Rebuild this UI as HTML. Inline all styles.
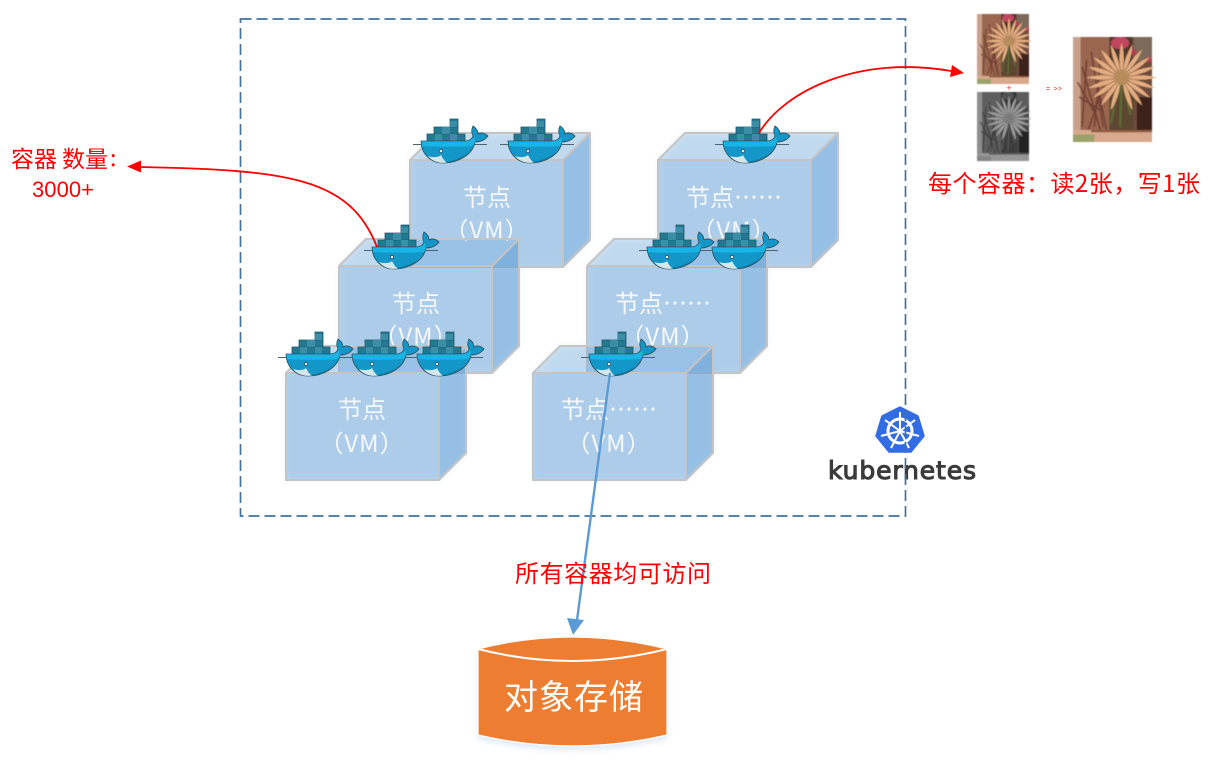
<!DOCTYPE html>
<html lang="zh-CN"><head><meta charset="utf-8"><style>
html,body{margin:0;padding:0;background:#fff}
svg{display:block}
text{font-family:"Liberation Sans","Noto Sans CJK SC",sans-serif}
.n{fill:#fff;font-size:24px;font-family:"Noto Sans CJK SC",sans-serif;font-weight:400;text-anchor:middle;fill-opacity:.88}
.r{fill:#f00;font-family:"Noto Sans CJK SC",sans-serif}
.f{fill:#5b9bd5;fill-opacity:.39}
.t{fill:#5b9bd5;fill-opacity:.23}
.s{fill:#5b9bd5;fill-opacity:.56}
.e{stroke:#c4c4c4;stroke-width:2;fill:none;stroke-linejoin:round}
</style></head><body>
<svg width="1211" height="764" viewBox="0 0 1211 764" xmlns="http://www.w3.org/2000/svg">
<defs>
<filter id="gl" x="-20%" y="-20%" width="140%" height="140%"><feGaussianBlur stdDeviation="3"/></filter>
<filter id="bl"><feGaussianBlur stdDeviation=".55"/></filter>
<g id="box">
<path d="M0 0H153V107H0Z" class="f"/>
<path d="M0 0L27-27H180L153 0Z" class="t"/>
<path d="M153 0L180-27V80L153 107Z" class="s"/>
<path d="M0 0H153V107H0ZM0 0L27-27H180V80L153 107M153 0L180-27" class="e"/>
</g>
<g id="whale">
<path d="M0 25.500H74" stroke="#4a6570" stroke-width=".9"/>
<path d="M14 15h38v7H14zM21 8h24v7H21zM37 0h8v8h-8z" fill="#24788f" stroke="#1b5a6c" stroke-width=".8"/>
<path d="M22 15h7v7h-7zM37 15h7v7h-7zM29 8h8v7h-8zM37 2h7v6h-7z" fill="#3b8ea6"/>
<path d="M8 22H52C57 22 59 20 60 17C58 13 59 9 60 7C63 9 65 12 65 15C68 13 72 14 75 17C72 21 67 23 62 23C60 35 46 44 30 44C17 44 8 34 8 22Z" fill="#1397c9" stroke="#2b4f5c" stroke-width=".8"/>
<path d="M8.400 22.400H52C56 22 59 21 61 18L62 23L60 27C44 28 24 28 9 27Z" fill="#19b4e6"/>
<path d="M56 32C50 40 40 44 30 43.500C44 41 52 37 56 32Z" fill="#0f7ca6"/>
<path d="M15 37C21 39 26 38 28 36C29 38 31 42 34 43.500C26 45 19 42 15 37Z" fill="#d5e6e8"/>
<circle cx="28" cy="32" r="1.700" fill="#dfeaf0" stroke="#26505f" stroke-width=".8"/>
</g>
<path id="pt" d="M0 -3C-2.200 -10-1.500 -18 0 -23C1.500 -18 2.200 -10 0 -3Z"/>
<g id="flower">
<rect width="52" height="70" fill="#6f4c3e"/>
<rect width="24" height="70" fill="#9a6650"/>
<rect x="24" width="15" height="30" fill="#4f382c"/>
<rect x="40" width="12" height="16" fill="#7d6a5a"/>
<rect x="24" y="37" width="16" height="25" fill="#5c4632"/>
<rect x="42" y="40" width="10" height="22" fill="#3c211b"/>
<rect x="0" width="5" height="62" fill="#c9a08a"/>
<g stroke="#6f3f30" stroke-width="1" fill="none"><path d="M12 10L20 60M6 20L18 62M24 22L10 62M4 40L20 50M9 15L6 60M16 30L22 62M3 30L14 50M18 14L14 60"/></g>
<path d="M30 30L25 58M32 30L31 60M34 35L38 52" stroke="#5d6b33" stroke-width="1.500" fill="none"/>
<ellipse cx="31" cy="4" rx="6" ry="4" fill="#c2455e"/>
<circle cx="40" cy="10" r="2" fill="#b53a52"/><circle cx="50" cy="15" r="2" fill="#b53a52"/>
<g fill="#e4ad80" transform="translate(32 27)">
<use href="#pt"/><use href="#pt" transform="rotate(18)"/><use href="#pt" transform="rotate(36)"/><use href="#pt" transform="rotate(54)"/><use href="#pt" transform="rotate(72)"/><use href="#pt" transform="rotate(90)"/><use href="#pt" transform="rotate(108)"/><use href="#pt" transform="rotate(126)"/><use href="#pt" transform="rotate(144)"/><use href="#pt" transform="rotate(162)"/><use href="#pt" transform="rotate(198)"/><use href="#pt" transform="rotate(216)"/><use href="#pt" transform="rotate(234)"/><use href="#pt" transform="rotate(252)"/><use href="#pt" transform="rotate(270)"/><use href="#pt" transform="rotate(288)"/><use href="#pt" transform="rotate(306)"/><use href="#pt" transform="rotate(324)"/><use href="#pt" transform="rotate(342)"/>
</g>
<circle cx="32" cy="27" r="5" fill="#b88c5a"/>
<rect y="62" width="52" height="8" fill="#d8a98c"/>
<rect x="12" y="62" width="40" height="1.500" fill="#8e5a40"/>
<rect x="0" y="65" width="14" height="5" fill="#9aa26a"/>
</g>
</defs>

<!-- box glows -->
<g fill="#9cc3e8" opacity=".3" filter="url(#gl)">
<path d="M410 160L437 133H590V240L563 267H410Z"/>
<path d="M658 160L685 133H838V240L811 267H658Z"/>
<path d="M339 266L366 239H519V346L492 373H339Z"/>
<path d="M587 266L614 239H767V346L740 373H587Z"/>
<path d="M286 373L313 346H466V453L439 480H286Z"/>
<path d="M533 373L560 346H713V453L686 480H533Z"/>
</g>

<!-- kubernetes logo -->
<path d="M900 407L918 416L924 436L911 452H889L876 436L882 416Z" fill="#326ce5" stroke="#326ce5" stroke-width="1.500" stroke-linejoin="round"/>
<g stroke="#fff" fill="none">
<circle cx="900" cy="431" r="12" stroke-width="3"/>
<path d="M900 431V412M900 431L915 420M900 431L919 436M900 431L909 448M900 431L891 448M900 431L881 436M900 431L885 420" stroke-width="2"/>
</g>
<circle cx="900" cy="431" r="2.500" fill="#fff"/>
<text x="828" y="479" font-size="25" fill="#3a3a3a" stroke="#3a3a3a" stroke-width="1.100" textLength="148" lengthAdjust="spacing" style="font-family:'DejaVu Sans',sans-serif">kubernetes</text>

<!-- dashed frame -->
<rect x="240.500" y="19" width="665" height="497" fill="none" stroke="#41719c" stroke-width="1.700" stroke-dasharray="11 5"/>

<!-- nodes -->
<use href="#box" x="410" y="160"/>
<text class="n" x="487" y="206">节点</text><text class="n" x="487" y="239" letter-spacing="1">（VM）</text>
<use href="#box" x="658" y="160"/>
<text class="n" x="734" y="206">节点……</text><text class="n" x="734" y="239" letter-spacing="1">（VM）</text>
<use href="#box" x="339" y="266"/>
<text class="n" x="416" y="312">节点</text><text class="n" x="416" y="345" letter-spacing="1">（VM）</text>
<use href="#box" x="587" y="266"/>
<text class="n" x="663" y="312">节点……</text><text class="n" x="663" y="345" letter-spacing="1">（VM）</text>
<use href="#box" x="286" y="373"/>
<text class="n" x="362" y="418">节点</text><text class="n" x="362" y="452" letter-spacing="1">（VM）</text>
<use href="#box" x="533" y="373"/>
<text class="n" x="609" y="418">节点……</text><text class="n" x="609" y="452" letter-spacing="1">（VM）</text>

<!-- whales -->
<use href="#whale" x="413" y="119"/>
<use href="#whale" x="500" y="119"/>
<use href="#whale" x="715" y="119"/>
<use href="#whale" x="364" y="225"/>
<use href="#whale" x="639" y="225"/>
<use href="#whale" x="704" y="225"/>
<use href="#whale" x="278" y="332"/>
<use href="#whale" x="344" y="332"/>
<use href="#whale" x="409" y="332"/>
<use href="#whale" x="581" y="332"/>

<!-- red connectors -->
<path d="M377 247C350 178 290 170 140 167" fill="none" stroke="#f00" stroke-width="1.800"/>
<path d="M127 166.500L141 160.500V172.500Z" fill="#f00"/>
<path d="M759 133C785 90 860 55 951 71" fill="none" stroke="#f00" stroke-width="1.800"/>
<path d="M964 73L950 77L952 65Z" fill="#f00"/>

<!-- blue connector -->
<path d="M610 373L577 620" fill="none" stroke="#5b9bd5" stroke-width="2.400"/>
<path d="M573 635L567 618L584 620Z" fill="#5b9bd5"/>

<!-- labels -->
<text class="r" x="11" y="167" font-size="23">容器</text>
<text class="r" x="62" y="167" font-size="23">数量</text>
<text class="r" x="110" y="166" font-size="23">:</text>
<text class="r" x="32" y="197" font-size="22" textLength="62" style="font-family:'Liberation Sans',sans-serif">3000+</text>
<text class="r" x="928" y="192" font-size="24" textLength="272">每个容器：读2张，写1张</text>
<text class="r" x="515" y="582" font-size="24" textLength="196">所有容器均可访问</text>

<!-- images -->
<g filter="url(#bl)">
<use href="#flower" transform="translate(977 14)"/>
<g style="filter:grayscale(1) brightness(.85)"><use href="#flower" transform="translate(977 92) scale(1 .986)"/></g>
<use href="#flower" transform="translate(1073 37) scale(1.519 1.500)"/>
</g>
<text x="1009" y="91" font-size="9" fill="#e33" text-anchor="middle">+</text>
<text x="1046" y="91" font-size="7" fill="#e33" textLength="16">= &gt;&gt;</text>

<!-- object storage -->
<path d="M478 650V735Q572 757 667 735V650" fill="#bdd6ee" opacity=".5" filter="url(#gl)" transform="translate(0 4)"/>
<path d="M478 649Q572 625 667 649V735Q572 757 478 735Z" fill="#ed7d31"/>
<path d="M478 649Q572 673 667 649" fill="none" stroke="#fff" stroke-width="2"/>
<path d="M478 649Q572 625 667 649V735Q572 757 478 735Z" fill="none" stroke="#fff" stroke-width="1.200"/>
<text x="573.500" y="709" font-size="34" fill="#fff" text-anchor="middle" style="font-family:'Noto Sans CJK SC',sans-serif" textLength="139">对象存储</text>
</svg>
</body></html>
